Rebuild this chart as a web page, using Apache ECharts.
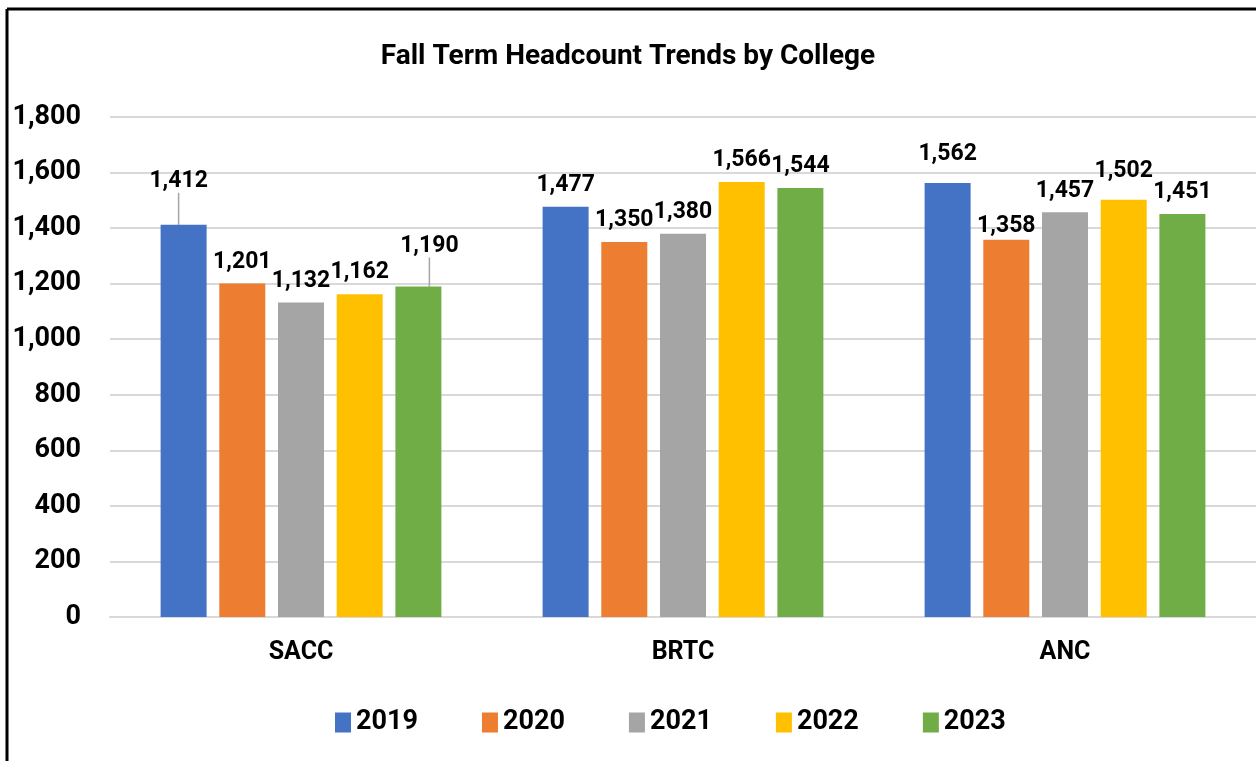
<!DOCTYPE html>
<html>
<head>
<meta charset="utf-8">
<script src="https://cdn.jsdelivr.net/npm/echarts@6/dist/echarts.min.js"></script>
<style>
  html, body { margin: 0; padding: 0; background: #fff; }
  #chart { width: 1256px; height: 761px; }
</style>
</head>
<body>
<div id="chart"></div>
<script>
const colleges = ['SACC', 'BRTC', 'ANC']
const years = ['2019', '2020', '2021', '2022', '2023']
const fall2019 = [1412, 1477, 1562]
const fall2020 = [1201, 1350, 1358]
const fall2021 = [1132, 1380, 1457]
const fall2022 = [1162, 1566, 1502]
const fall2023 = [1190, 1544, 1451]
const yTicks = { min: 0, max: 1800, interval: 200 }

const colors = ['#4472C4', '#ED7D31', '#A5A5A5', '#FFC000', '#70AD47']
const FONT = 'Roboto, sans-serif'

// labels that Excel moved by hand: "series-dataIndex" -> shift
const labelShift = {
  '0-0': { dx: -5, dy: -22, line: true },
  '4-0': { dx: 11, dy: -19, line: true },
  '0-2': { dx: 0, dy: -7 },
  '1-2': { dx: 0, dy: 8 },
  '3-2': { dx: 0, dy: -7 }
}

const fmt = v => Number(v).toLocaleString('en-US')

const chart = echarts.init(document.getElementById('chart'))

const seriesData = [fall2019, fall2020, fall2021, fall2022, fall2023]

chart.setOption({
  animation: false,
  color: colors,
  title: {
    text: 'Fall Term Headcount Trends by College',
    left: 'center',
    top: 38,
    textStyle: { fontFamily: FONT, fontSize: 28, fontWeight: 'bold', color: '#000' }
  },
  legend: {
    left: 330,
    top: 704,
    itemWidth: 16,
    itemHeight: 20,
    itemGap: 64,
    icon: 'rect',
    textStyle: { fontFamily: FONT, fontSize: 27, fontWeight: 'bold', color: '#000' }
  },
  grid: { left: 110, right: 0, top: 117, bottom: 144, outerBoundsMode: 'none' },
  xAxis: {
    type: 'category',
    data: colleges,
    axisLine: { lineStyle: { color: '#D9D9D9', width: 2 } },
    axisTick: { show: false },
    axisLabel: { margin: 23, fontFamily: FONT, fontSize: 25, fontWeight: 'bold', color: '#000' }
  },
  yAxis: {
    type: 'value',
    min: yTicks.min,
    max: yTicks.max,
    interval: yTicks.interval,
    axisLine: { show: false },
    axisTick: { show: false },
    splitLine: { lineStyle: { color: '#D9D9D9', width: 2 } },
    axisLabel: { margin: 29, formatter: fmt, fontFamily: FONT, fontSize: 27, fontWeight: 'bold', color: '#000' }
  },
  series: years.map((y, i) => ({
    name: y,
    type: 'bar',
    data: seriesData[i].map((v, j) => {
      const s = labelShift[i + '-' + j]
      return { value: v, labelLine: { show: !!(s && s.line) } }
    }),
    barWidth: 46,
    barGap: '27.6%',
    label: {
      show: true,
      position: 'top',
      distance: 10,
      formatter: p => fmt(p.value),
      fontFamily: FONT,
      fontSize: 23,
      fontWeight: 'bold',
      color: '#000'
    },
    labelLine: {
      show: false,
      lineStyle: { color: '#A6A6A6', width: 1.5 }
    },
    labelLayout: p => {
      const s = labelShift[p.seriesIndex + '-' + p.dataIndex]
      if (!s) return {}
      return { dx: s.dx, dy: s.dy }
    }
  })),
  graphic: [
    { type: 'line', shape: { x1: 7, y1: 9, x2: 1256, y2: 9 }, style: { stroke: '#000', lineWidth: 3 } },
    { type: 'line', shape: { x1: 7, y1: 9, x2: 7, y2: 761 }, style: { stroke: '#000', lineWidth: 3 } }
  ]
})
</script>
</body>
</html>
